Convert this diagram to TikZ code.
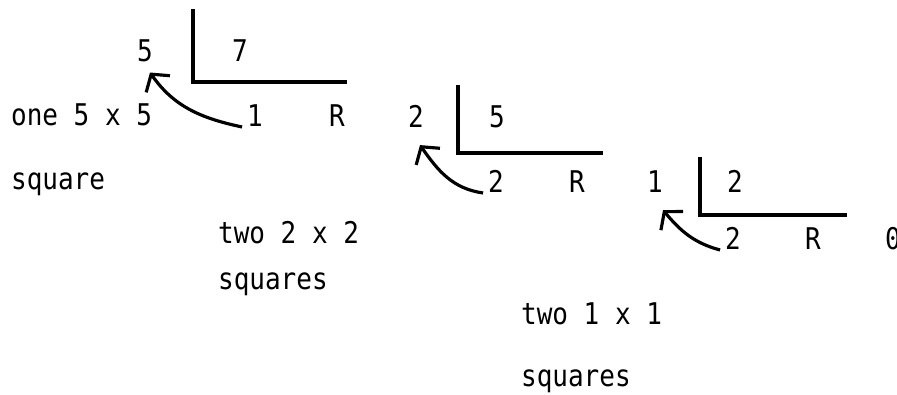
\documentclass[tikz,border=0pt]{standalone}
\usepackage{fontspec}
\setmonofont[FakeStretch=0.87]{DejaVu Sans Mono}
\usetikzlibrary{arrows.meta,calc}

\begin{document}
\begin{tikzpicture}[x=0.01cm,y=-0.01cm,line width=0.9pt,
    >={Straight Barb[length=1.2mm,width=2.9mm]},
    txt/.style={font=\ttfamily\fontsize{8.5}{10}\selectfont,inner sep=1pt,anchor=base},
    lbl/.style={txt,anchor=base west}]
  \useasboundingbox (0,0) rectangle (897,395);
  % first step
  \node[txt] (d1) at (145,62) {5};
  \node[txt] (q1) at (240,62) {7};
  \node[txt] (r1) at (255,127) {1};
  \node[txt] (s1) at (337,127) {R};
  \draw (193,9) -- (193,82) -- (347,82);
  \draw[->] (r1.base west) to[out=168,in=-55] ($(d1.south)+(5,5)$);
  \node[lbl] (t1) at (6,126) {one 5 x 5};
  \node[lbl] (u1) at (6,190) {square};
  % second step
  \node[txt] (d2) at (416,128) {2};
  \node[txt] (q2) at (497,128) {5};
  \node[txt] (r2) at (496,193) {2};
  \node[txt] (s2) at (577,193) {R};
  \draw (458,85) -- (458,153) -- (603,153);
  \draw[->] (r2.base west) to[out=172,in=-55] ($(d2.south)+(4,12)$);
  \node[lbl] (t2) at (213,244) {two 2 x 2};
  \node[lbl] (u2) at (213,290) {squares};
  % third step
  \node[txt] (d3) at (655,193) {1};
  \node[txt] (q3) at (735,193) {2};
  \node[txt] (r3) at (733,250) {2};
  \node[txt] (s3) at (813,250) {R};
  \node[txt] (z3) at (893,250) {0};
  \draw (700,157) -- (700,215) -- (847,215);
  \draw[->] (r3.base west) to[out=165,in=-50] ($(d3.south)+(8,12)$);
  \node[lbl] (t3) at (516,325) {two 1 x 1};
  \node[lbl] (u3) at (516,387) {squares};
\end{tikzpicture}
\end{document}
